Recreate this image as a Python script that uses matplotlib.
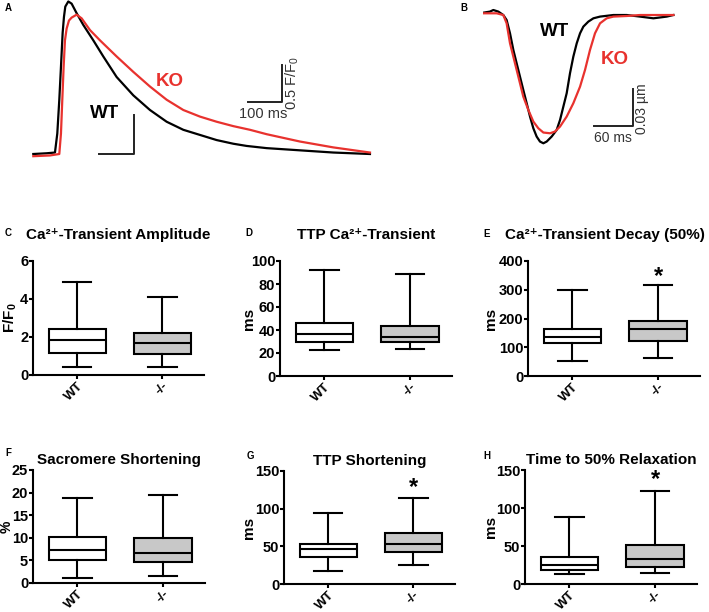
import numpy as np
import matplotlib
matplotlib.use('Agg')
import matplotlib.pyplot as plt

plt.rcParams['font.family'] = ['Liberation Sans', 'DejaVu Sans']
plt.rcParams['mathtext.fontset'] = 'custom'
plt.rcParams['mathtext.rm'] = 'Liberation Sans'
plt.rcParams['mathtext.bf'] = 'Liberation Sans:bold'
plt.rcParams['mathtext.it'] = 'Liberation Sans:italic'

# Panel A: Ca2+ transients (ms, F/F0)
tA_wt = [0, 40, 65, 72, 78, 83, 88, 92, 96, 105, 115, 130, 150, 180, 210, 250, 300, 350,
         400, 450, 500, 550, 600, 640, 700, 800, 900, 1010]
fA_wt = [1.00, 1.01, 1.02, 1.28, 1.74, 2.19, 2.65, 2.87, 3.01, 3.08, 3.05, 2.92, 2.76, 2.55,
         2.33, 2.05, 1.80, 1.60, 1.44, 1.33, 1.26, 1.19, 1.14, 1.11, 1.08, 1.05, 1.02, 1.00]
tA_ko = [0, 50, 78, 83, 87, 91, 95, 100, 107, 115, 130, 145, 170, 200, 250, 300, 350, 400,
         450, 500, 550, 600, 650, 700, 800, 900, 1010]
fA_ko = [0.97, 0.98, 1.00, 1.28, 1.74, 2.19, 2.55, 2.71, 2.82, 2.86, 2.90, 2.85, 2.69, 2.55,
         2.33, 2.12, 1.92, 1.74, 1.60, 1.51, 1.44, 1.38, 1.33, 1.27, 1.17, 1.09, 1.02]

# Panel B: sarcomere length change (ms, um)
tB_wt = [0, 10.4, 15.7, 23.5, 31.3, 36.5, 41.8, 47.0, 52.2, 57.4, 62.6, 67.9, 73.1, 78.3, 83.5,
         88.7, 94.0, 99.2, 107.0, 114.8, 120.1, 125.3, 130.5, 135.7, 140.9, 146.2, 151.4,
         156.6, 164.4, 172.3, 182.7, 203.6, 224.5, 245.3, 266.2, 287.1, 297.5]
lB_wt = [0.0005, 0.0014, 0.0027, 0.0014, -0.0014, -0.0055, -0.0164, -0.0300, -0.0410, -0.0519,
         -0.0628, -0.0737, -0.0846, -0.0942, -0.1010, -0.1051, -0.1065, -0.1051, -0.1010,
         -0.0956, -0.0874, -0.0764, -0.0655, -0.0491, -0.0355, -0.0246, -0.0164, -0.0109,
         -0.0068, -0.0041, -0.0027, -0.0014, -0.0014, -0.0027, -0.0041, -0.0027, -0.0014]
tB_ko = [0, 20.9, 31.3, 36.5, 41.8, 47.0, 52.2, 57.4, 62.6, 70.5, 78.3, 86.1, 94.0, 104.4,
         112.2, 120.1, 130.5, 140.9, 151.4, 159.2, 167.0, 174.8, 182.7, 193.1, 203.6, 224.5,
         245.3, 271.4, 297.5]
lB_ko = [0, 0, -0.0014, -0.0082, -0.0246, -0.0355, -0.0464, -0.0573, -0.0683, -0.0792, -0.0887,
         -0.0942, -0.0977, -0.0983, -0.0969, -0.0928, -0.0846, -0.0737, -0.0601, -0.0464,
         -0.0300, -0.0164, -0.0082, -0.0041, -0.0027, -0.0022, -0.0014, -0.0014, -0.0014]

# Box plots: [whislo, q1, med, q3, whishi] for WT and -/-
groups = ['WT', '-/-']
amp_wt = [0.44, 1.15, 1.86, 2.43, 4.92]
amp_ko = [0.44, 1.10, 1.67, 2.20, 4.12]
ttp_wt = [23, 29.5, 36.5, 46, 92]
ttp_ko = [23.7, 29.5, 34, 43.5, 88.7]
dec_wt = [53, 114, 135, 162, 299]
dec_ko = [64, 123, 162, 190, 316]
sh_wt = [1.0, 5.1, 7.3, 10.1, 18.7]
sh_ko = [1.6, 4.7, 6.6, 9.9, 19.5]
ttps_wt = [17, 36, 46, 52.7, 94]
ttps_ko = [25, 43, 53, 68, 114]
rel_wt = [13.7, 18.6, 25, 35, 88]
rel_ko = [15, 23, 32.5, 51, 122]

W, H = 709, 612
fig = plt.figure(figsize=(W/100, H/100), dpi=100)

def px_axes(left, top, right, bottom):
    return fig.add_axes([left/W, 1-bottom/H, (right-left)/W, (bottom-top)/H])

red = '#e8322e'

# --- A ---
axA = px_axes(33.3, 0, 373.3, 165)
axA.plot(tA_wt, fA_wt, color='black', lw=1.6, clip_on=False)
axA.plot(tA_ko, fA_ko, color=red, lw=1.6, clip_on=False)
axA.set_xlim(0, 1020)
axA.set_ylim(0.85, 3.10)
axA.axis('off')
axA.plot([645, 745, 745], [1.71, 1.71, 2.21], color='#222222', lw=1.4)
axA.plot([198, 302, 302], [1.0, 1.0, 1.53], color='#222222', lw=1.4)
axA.text(690, 1.55, '100 ms', ha='center', va='center', fontsize=10.5, color='#333333')
axA.text(752, 1.97, '0.5 F/F$_0$', ha='left', va='center', rotation=90, fontsize=10.5,
         color='#333333')
axA.text(410, 1.99, 'KO', ha='center', va='center', fontsize=13.5, fontweight='bold', color=red)
axA.text(215, 1.55, 'WT', ha='center', va='center', fontsize=13.5, fontweight='bold')

# --- B ---
axB = px_axes(483.3, 0, 683.3, 165)
axB.plot(tB_wt, lB_wt, color='black', lw=1.6)
axB.plot(tB_ko, lB_ko, color=red, lw=1.6)
axB.set_xlim(0, 313)
axB.set_ylim(-0.1243, 0.0109)
axB.axis('off')
axB.plot([173.8, 233.9, 233.9], [-0.0923, -0.0923, -0.0623], color='#222222', lw=1.4)
axB.text(203.6, -0.1024, '60 ms', ha='center', va='center', fontsize=10, color='#333333')
axB.text(238, -0.078, '0.03 µm', ha='left', va='center', rotation=90, fontsize=10,
         color='#333333')
axB.text(112, -0.015, 'WT', ha='center', va='center', fontsize=13.5, fontweight='bold')
axB.text(206, -0.038, 'KO', ha='center', va='center', fontsize=13.5, fontweight='bold', color=red)

fig.text(5/W, 1-8/H, 'A', fontsize=7, fontweight='bold', va='center')
fig.text(460/W, 1-8/H, 'B', fontsize=7, fontweight='bold', va='center')

# --- box panels ---
def box_panel(box, vals_wt, vals_ko, ymax, step, title, ylabel, ylab_x, letter, letter_xy,
              star=None, pad=15, ylab_size=11):
    ax = px_axes(*box)
    stats = []
    for v, name in zip([vals_wt, vals_ko], groups):
        stats.append(dict(whislo=v[0], q1=v[1], med=v[2], q3=v[3], whishi=v[4],
                          fliers=[], label=name))
    b = ax.bxp(stats, positions=[0, 1], widths=0.67, patch_artist=True, showfliers=False,
               boxprops=dict(lw=1.5, edgecolor='black'),
               whiskerprops=dict(lw=1.5, color='black'),
               capprops=dict(lw=1.5, color='black'),
               medianprops=dict(lw=1.5, color='black'))
    b['boxes'][0].set_facecolor('white')
    b['boxes'][1].set_facecolor('#c8c8c8')
    ax.set_xlim(-0.52, 1.49)
    ax.set_ylim(0, ymax)
    ax.set_yticks(np.arange(0, ymax + step/2, step))
    ax.spines['top'].set_visible(False)
    ax.spines['right'].set_visible(False)
    ax.spines['left'].set_linewidth(1.5)
    ax.spines['bottom'].set_linewidth(1.5)
    ax.tick_params(width=1.5, length=3, labelsize=10.5, pad=0.5)
    for lab in ax.get_yticklabels():
        lab.set_fontweight('bold')
    ax.set_xticks([0, 1])
    ax.set_xticklabels(groups, rotation=45, ha='right', rotation_mode='anchor',
                       fontweight='bold', fontsize=9.5)
    ax.set_ylabel(ylabel, fontsize=ylab_size, fontweight='bold')
    x0 = box[0]
    ax.yaxis.set_label_coords((ylab_x - x0)/(box[2] - x0), 0.5)
    ax.set_title(title, fontsize=11, fontweight='bold', pad=pad)
    if star is not None:
        ax.text(1, star, '*', ha='center', va='center', fontsize=17, fontweight='bold')
    fig.text(letter_xy[0]/W, 1-letter_xy[1]/H, letter, fontsize=7, fontweight='bold',
             va='center')
    return ax

box_panel((33, 261, 204, 375), amp_wt, amp_ko, 6, 2, 'Ca²⁺-Transient Amplitude',
          r'$\mathbf{F/F_0}$', 19, 'C', (5, 233), pad=16)
box_panel((280, 261, 452, 376), ttp_wt, ttp_ko, 100, 20, 'TTP Ca²⁺-Transient',
          'ms', 256, 'D', (245, 233), pad=16)
ax = box_panel((528, 261, 700, 376), dec_wt, dec_ko, 400, 100,
               'Ca²⁺-Transient Decay (50%)', 'ms', 498, 'E', (483, 234), star=345, pad=16)
ax.title.set_x(0.45)
box_panel((33, 470, 205, 583), sh_wt, sh_ko, 25, 5, 'Sacromere Shortening', '%', 14, 'F',
          (5, 453), pad=4, ylab_size=10)
box_panel((284, 471, 455, 584), ttps_wt, ttps_ko, 150, 50, 'TTP Shortening', 'ms', 256, 'G',
          (247, 456), star=128, pad=4)
box_panel((525, 470, 697, 584), rel_wt, rel_ko, 150, 50, 'Time to 50% Relaxation', 'ms', 498, 'H',
          (483, 456), star=138, pad=4)

fig.savefig('out.png', dpi=100)
